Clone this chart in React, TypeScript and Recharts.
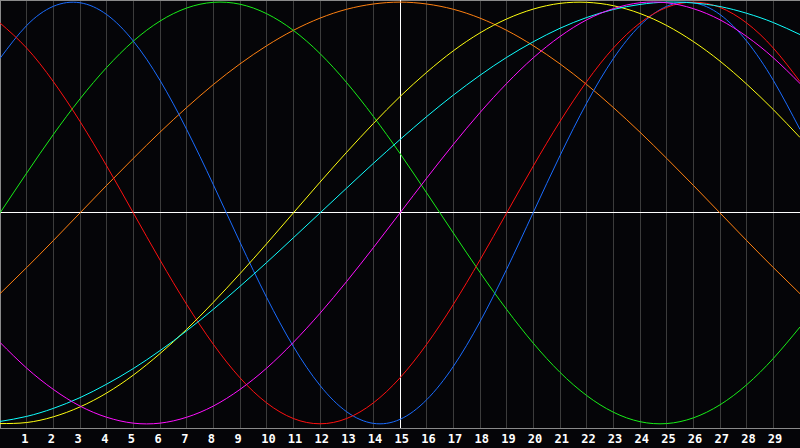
import { LineChart, Line, XAxis, YAxis, CartesianGrid, ReferenceLine } from "recharts";

// days shown on the axis
const days = [0, 1, 2, 3, 4, 5, 6, 7, 8, 9, 10, 11, 12, 13, 14, 15, 16, 17, 18, 19, 20, 21, 22, 23, 24, 25, 26, 27, 28, 29, 30];
const tickDays = [1, 2, 3, 4, 5, 6, 7, 8, 9, 10, 11, 12, 13, 14, 15, 16, 17, 18, 19, 20, 21, 22, 23, 24, 25, 26, 27, 28, 29];

// cycle values, one per day
const physical = [0.733, 0.889, 0.98, 0.997, 0.941, 0.815, 0.629, 0.396, 0.134, -0.139, -0.401, -0.633, -0.818, -0.943, -0.998, -0.979, -0.886, -0.728, -0.516, -0.267, 0.003, 0.272, 0.521, 0.732, 0.889, 0.98, 0.997, 0.941, 0.815, 0.629, 0.396];
const emotional = [0.901, 0.782, 0.623, 0.434, 0.223, 0, -0.223, -0.434, -0.623, -0.782, -0.901, -0.975, -1, -0.975, -0.901, -0.782, -0.623, -0.434, -0.223, 0, 0.223, 0.434, 0.623, 0.782, 0.901, 0.975, 1, 0.975, 0.901, 0.782, 0.623];
const intellectual = [0, 0.189, 0.372, 0.541, 0.69, 0.815, 0.91, 0.972, 0.999, 0.99, 0.945, 0.866, 0.756, 0.618, 0.458, 0.282, 0.095, -0.095, -0.282, -0.458, -0.618, -0.756, -0.866, -0.945, -0.99, -0.999, -0.972, -0.91, -0.815, -0.69, -0.541];
const intuitive = [-0.614, -0.736, -0.837, -0.916, -0.969, -0.997, -0.997, -0.969, -0.916, -0.837, -0.736, -0.614, -0.476, -0.325, -0.165, 0, 0.165, 0.325, 0.476, 0.614, 0.736, 0.837, 0.916, 0.969, 0.997, 0.997, 0.969, 0.916, 0.837, 0.736, 0.614];
const aesthetic = [-0.999, -0.994, -0.967, -0.92, -0.854, -0.769, -0.667, -0.552, -0.424, -0.288, -0.146, 0, 0.146, 0.288, 0.424, 0.552, 0.667, 0.769, 0.854, 0.92, 0.967, 0.994, 0.999, 0.983, 0.946, 0.889, 0.813, 0.72, 0.611, 0.49, 0.358];
const awareness = [-0.383, -0.259, -0.131, 0, 0.131, 0.259, 0.383, 0.5, 0.609, 0.707, 0.793, 0.866, 0.924, 0.966, 0.991, 1, 0.991, 0.966, 0.924, 0.866, 0.793, 0.707, 0.609, 0.5, 0.383, 0.259, 0.131, 0, -0.131, -0.259, -0.383];
const spiritual = [-0.989, -0.965, -0.927, -0.876, -0.812, -0.738, -0.653, -0.559, -0.457, -0.348, -0.235, -0.118, 0, 0.118, 0.235, 0.348, 0.457, 0.559, 0.653, 0.738, 0.812, 0.876, 0.927, 0.965, 0.989, 1, 0.996, 0.979, 0.947, 0.903, 0.846];

const data = days.map((day, i) => ({
  day,
  physical: physical[i],
  emotional: emotional[i],
  intellectual: intellectual[i],
  intuitive: intuitive[i],
  aesthetic: aesthetic[i],
  awareness: awareness[i],
  spiritual: spiritual[i],
}));

const series = [
  { key: "awareness", color: "#ff8010" },
  { key: "intellectual", color: "#18ee18" },
  { key: "physical", color: "#1a6cff" },
  { key: "emotional", color: "#ff1010" },
  { key: "aesthetic", color: "#ffff10" },
  { key: "spiritual", color: "#10ffff" },
  { key: "intuitive", color: "#ff10ff" },
];

function DayTick(props: any) {
  const { x, payload } = props;
  return (
    <text
      x={x - 5.5}
      y={443}
      fill="#ffffff"
      fontFamily="DejaVu Sans Mono"
      fontWeight="bold"
      fontSize={12}
      textAnchor="start"
    >
      {payload.value}
    </text>
  );
}

export default function App() {
  return (
    <div style={{ position: "fixed", left: 0, top: 0, width: 800, height: 448, background: "#050508" }}>
      <LineChart width={800} height={448} data={data} margin={{ top: 0, right: 0, bottom: 0, left: 0 }}>
        <CartesianGrid horizontal={false} stroke="#3c3c3c" strokeWidth={1} shapeRendering="crispEdges" />
        <XAxis
          dataKey="day"
          type="number"
          domain={[0, 30]}
          ticks={tickDays}
          interval={0}
          height={20}
          axisLine={{ stroke: "#8a8a8a", shapeRendering: "crispEdges" }}
          tickLine={false}
          tick={<DayTick />}
        />
        <YAxis hide domain={[-1.02, 1.01]} allowDataOverflow />
        <ReferenceLine x={0} stroke="#8a8a8a" shapeRendering="crispEdges" />
        <ReferenceLine y={1.01} stroke="#8a8a8a" shapeRendering="crispEdges" />
        <ReferenceLine x={15} stroke="#ffffff" shapeRendering="crispEdges" />
        <ReferenceLine y={0} stroke="#ffffff" shapeRendering="crispEdges" />
        {series.map((s) => (
          <Line
            key={s.key}
            dataKey={s.key}
            type="natural"
            stroke={s.color}
            strokeWidth={1}
            dot={false}
            activeDot={false}
            isAnimationActive={false}
          />
        ))}
      </LineChart>
    </div>
  );
}
